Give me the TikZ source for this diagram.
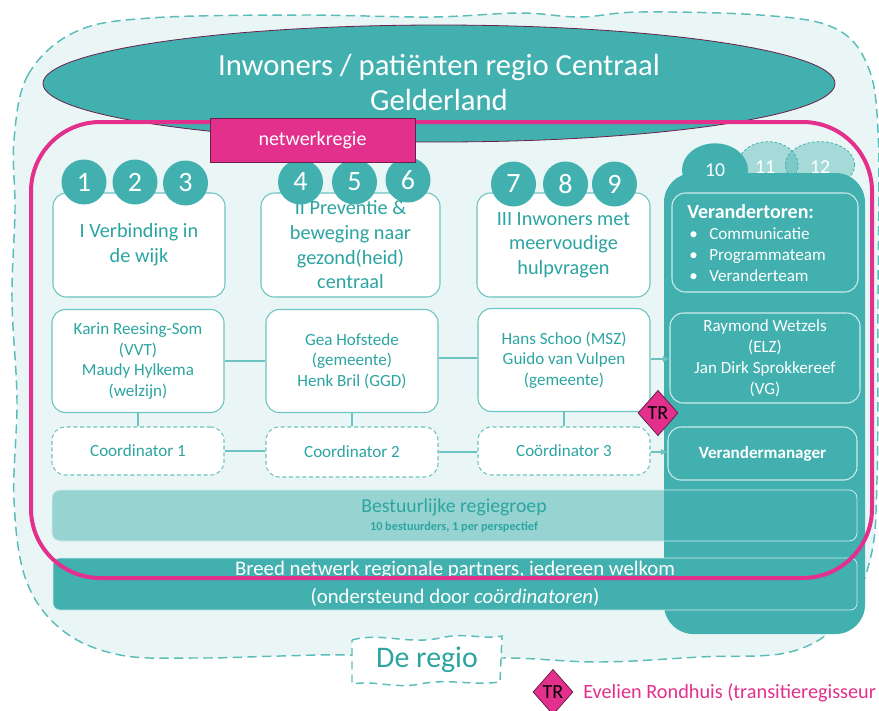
\documentclass[tikz,border=0pt]{standalone}
\usepackage{fontspec}
\setmainfont{Carlito}
\usetikzlibrary{shapes.geometric,arrows.meta}
\definecolor{teal1}{HTML}{41B0AF}
\definecolor{tealtxt}{HTML}{2CA5A2}
\definecolor{bgc}{HTML}{EAF6F6}
\definecolor{barc}{HTML}{97D4D1}
\definecolor{mag}{HTML}{E2308C}
\definecolor{dpurp}{HTML}{6A2049}
\definecolor{cloudb}{HTML}{5BBDBA}
\definecolor{boxb}{HTML}{6CC3C0}
\newcommand\fs[2]{\fontsize{#1}{#2}\selectfont}
\begin{document}
\begin{tikzpicture}[x=0.75pt,y=-0.75pt,
  pbox/.style={draw=boxb, fill=white, rounded corners=10pt, line width=0.8pt, text=tealtxt, align=center, inner sep=0pt},
  coordbox/.style={pbox, dash pattern=on 3pt off 2pt},
  num/.style={circle, fill=teal1, text=white, minimum size=33.75pt, inner sep=0pt, font=\fs{21}{21}},
  wbox/.style={draw=white!75!teal1, rounded corners=10pt, line width=0.8pt, text=white, align=center, inner sep=0pt},
  conn/.style={draw=boxb, line width=0.8pt},
  arr/.style={conn, -{Latex[length=5pt,width=5pt]}},
  trbox/.style={diamond, fill=mag, draw=dpurp, line width=0.6pt, minimum width=30pt, minimum height=34pt, inner sep=0pt, font=\fs{15}{15}, text=black},
  small/.style={font=\fs{12.8}{15.4}}
]
\useasboundingbox (0,0) rectangle (879,711);
% cloud region
\path[fill=bgc, draw=cloudb, line width=1.1pt, dash pattern=on 7pt off 4pt]
  plot[smooth cycle, tension=0.6] coordinates {(14,140) (28,75) (75,32) (150,18) (300,15) (430,17) (520,13) (580,17) (640,12) (760,15) (832,27) (866,62) (878,130) (878,300) (877,480) (870,560) (842,620) (790,652) (700,657) (600,662) (510,658) (430,660) (350,655) (280,656) (200,658) (120,655) (62,630) (26,580) (14,500) (17,400) (12,300) (15,210)};
% title ellipse
\node[ellipse, fill=teal1, draw=dpurp, line width=0.6pt, minimum width=594pt, minimum height=87.75pt, inner sep=0pt] (title) at (439,83.5) {};
\node[text=white, align=center, font=\fs{23}{26}] (titletxt) at (439,82.5) {Inwoners / patiënten regio Centraal\\Gelderland};
% bestuurlijke bar fill
\fill[barc, rounded corners=6pt] (52,490) rectangle (857,541);
% tower numbers 11 12
\node[ellipse, draw=teal1, dash pattern=on 2pt off 1.5pt, line width=0.6pt, fill=teal1, fill opacity=0.4, text opacity=1, text=white, minimum width=45pt, minimum height=35pt, inner sep=0pt, font=\fs{14.8}{14.8}] (n11) at (768,165) {};
\node[ellipse, draw=teal1, dash pattern=on 2pt off 1.5pt, line width=0.6pt, fill=teal1, fill opacity=0.4, text opacity=1, text=white, minimum width=52pt, minimum height=35pt, inner sep=0pt, font=\fs{14.8}{14.8}] (n12) at (820,165) {};
\node[text=white, font=\fs{14.8}{14.8}] (t11) at (765,167) {11};
\node[text=white, font=\fs{14.8}{14.8}] (t12) at (820,167) {12};
% tower column
\fill[teal1, rounded corners=22pt] (664,173) rectangle (865,634);
\node[ellipse, fill=teal1, text=white, minimum width=49.5pt, minimum height=40pt, inner sep=0pt, font=\fs{14.8}{14.8}] (n10) at (715,170) {10};
% bars borders and texts
\draw[white!75!teal1, line width=0.6pt, rounded corners=6pt] (52,490) rectangle (857,541);
\node[text=tealtxt, font=\fs{14.8}{14.8}] (best) at (454,507) {Bestuurlijke regiegroep};
\node[text=tealtxt, font=\bfseries\fs{9.2}{9.2}] (bestsub) at (454,527) {10 bestuurders, 1 per perspectief};
\node[fill=teal1, draw=white!75!teal1, line width=0.6pt, rounded corners=5pt, minimum width=603pt, minimum height=39pt, inner sep=0pt] (breed) at (455,584) {};
\node[text=white, font=\fs{15.6}{15.6}] (breed1) at (455,570) {Breed netwerk regionale partners, iedereen welkom};
\node[text=white, font=\fs{15.6}{15.6}] (breed2) at (455,597) {(ondersteund door \textit{coördinatoren})};
% perspective boxes
\node[pbox, minimum width=129pt, minimum height=78pt, font=\fs{15.2}{18.5}] (bI) at (139,245) {I Verbinding in\\de wijk};
\node[pbox, minimum width=134.25pt, minimum height=78pt, font=\fs{15.2}{18.5}] (bII) at (350.5,245) {II Preventie \&\\beweging naar\\gezond(heid)\\centraal};
\node[pbox, minimum width=129.75pt, minimum height=78pt, font=\fs{15.2}{18.5}] (bIII) at (563.5,245) {III Inwoners met\\meervoudige\\hulpvragen};
% number circles
\node[num] (c1n) at (84,182) {1};
\node[num] (c2n) at (135,182) {2};
\node[num] (c3n) at (185.5,183) {3};
\node[num] (c4n) at (300.5,182) {4};
\node[num] (c5n) at (354.5,182) {5};
\node[num] (c6n) at (408,180) {6};
\node[num] (c7n) at (513.5,184) {7};
\node[num] (c8n) at (565.5,184) {8};
\node[num] (c9n) at (614.5,184) {9};
% person boxes
\node[pbox, small, minimum width=129pt, minimum height=77.25pt] (pA) at (138,361) {Karin Reesing-Som\\(VVT)\\Maudy Hylkema\\(welzijn)};
\node[pbox, small, minimum width=129pt, minimum height=77.25pt] (pB) at (352,361) {Gea Hofstede\\(gemeente)\\Henk Bril (GGD)};
\node[pbox, small, minimum width=129pt, minimum height=77.25pt] (pC) at (564,360) {Hans Schoo (MSZ)\\Guido van Vulpen\\(gemeente)};
% coordinator boxes
\node[coordbox, small, minimum width=129pt, minimum height=36pt] (co1) at (138,451) {Coordinator 1};
\node[coordbox, small, minimum width=129pt, minimum height=37.5pt] (co2) at (352,452) {Coordinator 2};
\node[coordbox, small, minimum width=129pt, minimum height=36pt] (co3) at (564,451) {Coördinator 3};
% tower boxes
\node[wbox, minimum width=139.5pt, minimum height=74.25pt] (vt) at (765,242.5) {};
\node[text=white, anchor=west, font=\bfseries\fs{15}{15}, inner sep=0pt] (vttitle) at (687,212) {Verandertoren:};
\node[text=white, anchor=west, align=left, font=\fs{12.8}{15.75}, inner sep=0pt] (vtlist) at (689,255) {\makebox[15pt][l]{\textbullet}Communicatie\\\makebox[15pt][l]{\textbullet}Programmateam\\\makebox[15pt][l]{\textbullet}Veranderteam};
\node[wbox, font=\fs{12.8}{15.75}, minimum width=142.5pt, minimum height=67.5pt] (ray) at (765,358) {Raymond Wetzels\\(ELZ)\\Jan Dirk Sprokkereef\\(VG)};
\node[wbox, font=\bfseries\fs{12.8}{12.8}, minimum width=141.75pt, minimum height=39.75pt] (vm) at (762.5,453.5) {Verandermanager};
% connectors
\draw[conn] (pA) -- (pB);
\draw[conn] (pB.east |- 0,358) -- (pC.west |- 0,358);
\draw[arr] (pC.east |- 0,359) -- (ray.west |- 0,359);
\draw[conn] (pA) -- (co1);
\draw[conn] (pB) -- (co2);
\draw[conn] (pC) -- (co3);
\draw[conn] (co1) -- (co2.west |- co1);
\draw[conn] (co2.east |- 0,452) -- (co3.west |- 0,452);
\draw[arr] (co3.east |- 0,452) -- (vm.west |- 0,452);
% pink netwerkregie frame
\draw[mag, line width=3pt, rounded corners=52pt] (31,122) rectangle (872,578);
\node[fill=mag, draw=dpurp, line width=0.6pt, minimum width=153.75pt, minimum height=33pt, inner sep=0pt, text=white, font=\fs{15}{15}] (nr) at (312.5,140) {netwerkregie};
% TR diamond
\node[trbox] (tr) at (658,413) {TR};
% De regio
\path[fill=white, draw=cloudb, line width=1.1pt, dash pattern=on 6pt off 4pt]
  (352,640) .. controls (380,632) and (410,645) .. (440,638) .. controls (465,632) and (485,640) .. (502,636)
  -- (500,682) .. controls (470,686) and (450,678) .. (420,684) .. controls (395,689) and (375,680) .. (352,684) -- cycle;
\node[text=tealtxt, font=\fs{22.4}{22.4}] (regio) at (427,660) {De regio};
% legend
\node[trbox] (trleg) at (553,692) {TR};
\node[text=mag, anchor=west, font=\fs{15.2}{15.2}, inner sep=0pt] (legtxt) at (583,693) {Evelien Rondhuis (transitieregisseur};
\end{tikzpicture}
\end{document}
